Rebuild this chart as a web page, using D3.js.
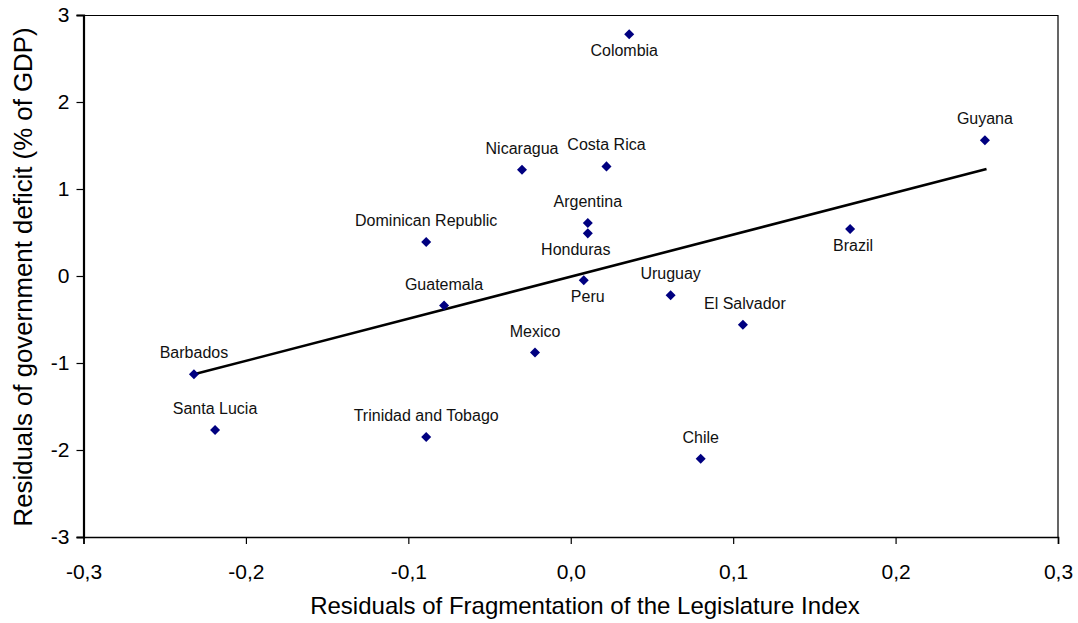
<!DOCTYPE html>
<html>
<head>
<meta charset="utf-8">
<script src="https://cdn.jsdelivr.net/npm/d3@7"></script>
<style>
    body { margin: 0; background: #fff; }
    svg { display: block; font-family: Arial, "Liberation Sans", sans-serif; }
</style>
</head>
<body>
<svg id="chart" width="1078" height="623"></svg>
<script>
// Data
const countries = ["Colombia", "Nicaragua", "Costa Rica", "Argentina", "Honduras",
    "Dominican Republic", "Guatemala", "Peru", "Uruguay", "El Salvador", "Mexico",
    "Trinidad and Tobago", "Santa Lucia", "Barbados", "Chile", "Brazil", "Guyana"];
const fragResid = [0.036, -0.030, 0.022, 0.0105, 0.0105, -0.089, -0.078, 0.008,
    0.0615, 0.106, -0.022, -0.089, -0.219, -0.232, 0.080, 0.172, 0.255];
const deficitResid = [2.78, 1.22, 1.26, 0.61, 0.49, 0.39, -0.34, -0.05, -0.22,
    -0.56, -0.88, -1.85, -1.77, -1.13, -2.10, 0.54, 1.56];
// label placement: "a" above, "b" below
const labelSide = ["b", "a", "a", "a", "b", "a", "a", "b", "a", "a", "a", "a", "a", "a", "a", "b", "a"];
const labelShift = [-5, 0, 0, 0, -12, 0, 0, 4, 0, 2, 0, 0, 0, 0, 0, 3, 0];

const trendX = [-0.232, 0.256];
const trendY = [-1.13, 1.23];

const xTicks = [-0.3, -0.2, -0.1, 0.0, 0.1, 0.2, 0.3];
const yTicks = [-3, -2, -1, 0, 1, 2, 3];

const CHART = {
    margin: { top: 15, right: 20, bottom: 86, left: 83.5 },
    width: 1078,
    height: 623,
};

function drawChart(chart) {
    const svg = d3.select("#chart");
    const w = 1058 - chart.margin.left;
    const h = chart.height - chart.margin.top - chart.margin.bottom;

    const x = d3.scaleLinear().domain([-0.3, 0.3]).range([0, w]);
    const y = d3.scaleLinear().domain([-3, 3]).range([h, 0]);

    const g = svg.append("g")
        .attr("transform", `translate(${chart.margin.left},${chart.margin.top})`);

    // plot frame (top / right)
    g.append("path")
        .attr("d", `M0,0.5H${w}V${h}`)
        .attr("fill", "none")
        .attr("stroke", "#000")
        .attr("stroke-width", 1.2);

    const fmt = d => d3.format(".1f")(d).replace(".", ",").replace("−", "-");

    // x axis
    const xAxis = g.append("g")
        .attr("transform", `translate(0,${h})`)
        .call(d3.axisBottom(x).tickValues(xTicks).tickSize(7).tickPadding(20).tickFormat(fmt));
    xAxis.select(".domain").attr("stroke-width", 1.6);
    xAxis.selectAll("text").attr("font-size", 21).attr("fill", "#000");
    xAxis.selectAll(".tick line").attr("stroke-width", 1.2);

    // y axis
    const yAxis = g.append("g")
        .call(d3.axisLeft(y).tickValues(yTicks).tickSize(7).tickPadding(7)
            .tickFormat(d => String(d)));
    yAxis.select(".domain").attr("stroke-width", 2.2);
    yAxis.selectAll("text").attr("font-size", 21).attr("fill", "#000");
    yAxis.selectAll(".tick line").attr("stroke-width", 1.2);

    // axis titles
    svg.append("text")
        .attr("x", 585)
        .attr("y", 614)
        .attr("text-anchor", "middle")
        .attr("font-size", 24)
        .text("Residuals of Fragmentation of the Legislature Index");

    svg.append("text")
        .attr("transform", `translate(32,277) rotate(-90)`)
        .attr("text-anchor", "middle")
        .attr("font-size", 25.8)
        .text("Residuals of government deficit (% of GDP)");

    // trend line
    g.append("line")
        .attr("x1", x(trendX[0])).attr("y1", y(trendY[0]))
        .attr("x2", x(trendX[1])).attr("y2", y(trendY[1]))
        .attr("stroke", "#000")
        .attr("stroke-width", 2.6);

    const pts = countries.map((c, i) => ({
        name: c, fx: fragResid[i], dy: deficitResid[i], side: labelSide[i], shift: labelShift[i]
    }));

    // diamonds
    g.selectAll(".pt")
        .data(pts)
        .join("path")
        .attr("class", "pt")
        .attr("d", d3.symbol(d3.symbolDiamond2, 64))
        .attr("transform", d => `translate(${x(d.fx)},${y(d.dy)})`)
        .attr("fill", "#000080");

    // labels
    g.selectAll(".lbl")
        .data(pts)
        .join("text")
        .attr("class", "lbl")
        .attr("x", d => x(d.fx) + d.shift)
        .attr("y", d => y(d.dy) + (d.side === "a" ? -16 : 22))
        .attr("text-anchor", "middle")
        .attr("font-size", 16)
        .attr("fill", "#111")
        .text(d => d.name);
}

window.addEventListener("load", function () {
    drawChart(CHART);
});
</script>
</body>
</html>
